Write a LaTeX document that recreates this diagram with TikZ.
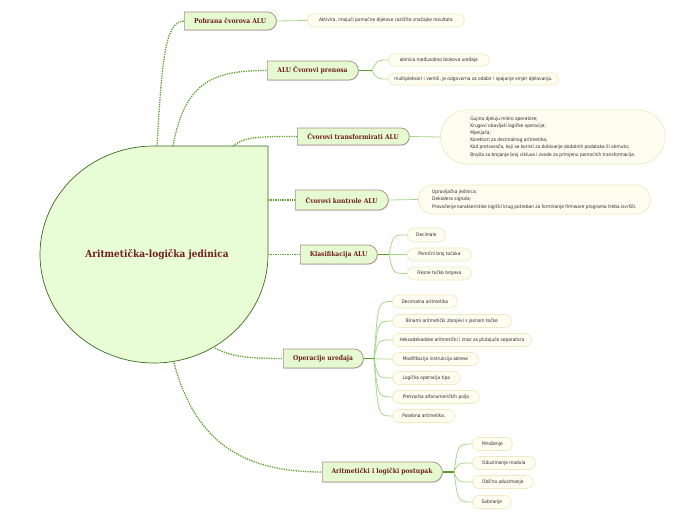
\documentclass[tikz,border=0pt]{standalone}
\usepackage{fontspec}
\usetikzlibrary{shapes.misc,shadows,calc}
\newfontfamily\mainf{DejaVu Serif Condensed}
\newfontfamily\subf{DejaVu Sans Condensed}
\definecolor{rootfill}{HTML}{E8FCD5}
\definecolor{rootline}{HTML}{3E6A22}
\definecolor{mainfill}{HTML}{E6FAD2}
\definecolor{mainline}{HTML}{A98888}
\definecolor{maintext}{HTML}{6E1E1E}
\definecolor{dotcol}{HTML}{5E9E2C}
\definecolor{stemcol}{HTML}{5A9E2A}
\definecolor{branchcol}{HTML}{A9D68A}
\definecolor{subfill}{HTML}{FDFDF0}
\definecolor{subline}{HTML}{F0E8C2}
\definecolor{subtext}{HTML}{2E2E2E}
\tikzset{
  mainbox/.style={rounded rectangle, rounded rectangle left arc=none, anchor=west,
    fill=mainfill, draw=mainline, line width=0.7pt, text=maintext,
    font=\mainf\bfseries\fontsize{6.7}{7}\selectfont, inner sep=1pt,
    drop shadow={shadow xshift=0.6pt, shadow yshift=-0.7pt, opacity=0.3, fill=mainline!70!black}},
  subbox/.style={rounded rectangle, anchor=west, fill=subfill, draw=subline, line width=0.7pt,
    text=subtext, font=\subf\fontsize{4.8}{7.1}\selectfont, inner sep=1pt, minimum height=13pt},
  dotline/.style={draw=dotcol, line width=1.3pt, dash pattern=on 1.3pt off 1.1pt},
  stemline/.style={draw=stemcol, line width=1.3pt},
  branchline/.style={draw=branchcol, line width=0.8pt},
}
\begin{document}
\begin{tikzpicture}[x=1pt,y=-1pt]
\useasboundingbox (0,0) rectangle (696,520);
% central shape
\filldraw[fill=rootfill, draw=rootline, line width=0.7pt]
  (154,146) -- (268,146) -- (268,254.5)
  arc[start angle=0, end angle=-270, x radius=114pt, y radius=108.5pt] -- cycle;
\node[text=maintext, font=\mainf\bfseries\fontsize{10}{12}\selectfont] (root) at (157,255) {Aritmetička-logička jedinica};
\coordinate (r1) at (157,146);
\coordinate (r2) at (173,146);
\coordinate (r3) at (233,146);
\coordinate (r4) at (268,200);
\coordinate (r5) at (268,254.5);
\coordinate (r6) at (215,348);
\coordinate (r7) at (174,363);

% main nodes
\node[mainbox, minimum width=94pt, minimum height=18pt] (n1) at (184,21) {Pohrana čvorova ALU\hspace{6pt}};
\node[mainbox, minimum width=93pt, minimum height=19pt] (n2) at (267,70.5) {ALU Čvorovi prenosa\hspace{6pt}};
\node[mainbox, minimum width=114pt, minimum height=17pt] (n3) at (297,136.5) {Čvorovi transformirati ALU\hspace{6pt}};
\node[mainbox, minimum width=95pt, minimum height=20pt] (n4) at (295,200) {Čvorovi kontrole ALU\hspace{6pt}};
\node[mainbox, minimum width=79pt, minimum height=19pt] (n5) at (300,254.5) {Klasifikacija ALU\hspace{6pt}};
\node[mainbox, minimum width=82pt, minimum height=19pt] (n6) at (283,358.5) {Operacije uređaja\hspace{6pt}};
\node[mainbox, minimum width=122pt, minimum height=20pt] (n7) at (322,472) {Aritmetički i logički postupak\hspace{6pt}};

% dotted connectors
\draw[dotline] (r1) .. controls (162,60) and (165,21) .. (n1.west);
\draw[dotline] (r2) .. controls (185,80) and (215,70.5) .. (n2.west);
\draw[dotline] (r3) .. controls (245,137) and (255,136.5) .. (n3.west);
\draw[dotline] (r4) -- (n4.west);
\draw[dotline] (r5) -- (n5.west);
\draw[dotline] (r6) .. controls (230,356) and (245,358.5) .. (n6.west);
\draw[dotline] (r7) .. controls (195,440) and (240,472) .. (n7.west);

% sub nodes
\node[subbox, minimum width=159pt] (s1) at (307,20.5) {Aktivira, imajući pomoćne dijelove različite značajke rezultata};
\node[subbox, minimum width=103pt, minimum height=12pt] (s2a) at (388,60) {abinica međusobno blokova uređaja};
\node[subbox, minimum width=172pt, minimum height=12pt] (s2b) at (388,79) {multipleksori i ventili, je odgovorna za odabir i spajanje smjer djelovanja.};
\node[subbox, minimum width=227pt, minimum height=54pt, align=left] (s3) at (440,137) {Gujina djeluju mikro operatore;\\Krugovi obavljati logičke operacije;\\Mjenjača;\\Korektori za decimalnog aritmetika;\\Kod pretvarača, koji se koristi za dobivanje dodatnih podataka ili obrnuto;\\Brojila za brojanje broj ciklusa i zvode za primjenu pomoćnih transformacije.};
\node[subbox, minimum width=234pt, minimum height=29pt, align=left] (s4) at (418,199.5) {Upravljačka jedinica;\\Dekodera signala;\\Pravočenje karakteristike logički krug potreban za formiranje firmware programa treba izvršiti.};
\node[subbox, minimum width=40pt, minimum height=14pt] (s5a) at (407,235) {Decimale};
\node[subbox, minimum width=66pt] (s5b) at (407,254.5) {Pomični broj točaka};
\node[subbox, minimum width=66pt] (s5c) at (407,273.5) {Fiksne točke brojeva};
\node[subbox, minimum width=67pt] (s6a) at (392,301.5) {Decimalna aritmetika};
\node[subbox, minimum width=121pt] (s6b) at (392,321) {Binarni aritmetički zbrojevi s jasnom točke};
\node[subbox, minimum width=141pt] (s6c) at (392,340) {Heksadekadske aritmetički i znoz za plutajuće separatora};
\node[subbox, minimum width=88pt] (s6d) at (392,359) {Modifikacija instrukcija adrese};
\node[subbox, minimum width=70pt] (s6e) at (392,378) {Logička operacija tipa};
\node[subbox, minimum width=89pt] (s6f) at (392,397) {Pretvorba alfanumeričkih polja};
\node[subbox, minimum width=65pt] (s6g) at (392,416) {Posebna aritmetika.};
\node[subbox, minimum width=42pt] (s7a) at (472,444) {Množenje};
\node[subbox, minimum width=65pt] (s7b) at (472,463) {Oduzimanje modula};
\node[subbox, minimum width=63pt] (s7c) at (472,482) {Obično oduzimanje};
\node[subbox, minimum width=41pt] (s7d) at (472,502) {Sabiranje};

% split points
\coordinate (p2) at (372,70.5);
\coordinate (p5) at (389,254.5);
\coordinate (p6) at (374,358.5);
\coordinate (p7) at (454,472);

% branch connectors
\draw[branchline] (n1.east) -- (s1.west);
\draw[branchline] (n3.east) -- (s3.west);
\draw[branchline] (n4.east) -- (s4.west);
\foreach \s in {s2a,s2b} \draw[branchline] (p2) .. controls ($(p2 |- \s.west)+(5,0)$) .. (\s.west);
\foreach \s in {s5a,s5b,s5c} \draw[branchline] (p5) .. controls ($(p5 |- \s.west)+(4,0)$) .. (\s.west);
\foreach \s in {s6a,s6b,s6c,s6d,s6e,s6f,s6g} \draw[branchline] (p6) .. controls ($(p6 |- \s.west)+(4,0)$) .. (\s.west);
\foreach \s in {s7a,s7b,s7c,s7d} \draw[branchline] (p7) .. controls ($(p7 |- \s.west)+(4,0)$) .. (\s.west);
\draw[stemline] (n2.east) -- (p2);
\draw[stemline] (n5.east) -- (p5);
\draw[stemline] (n6.east) -- (p6);
\draw[stemline] (n7.east) -- (p7);
\end{tikzpicture}
\end{document}
